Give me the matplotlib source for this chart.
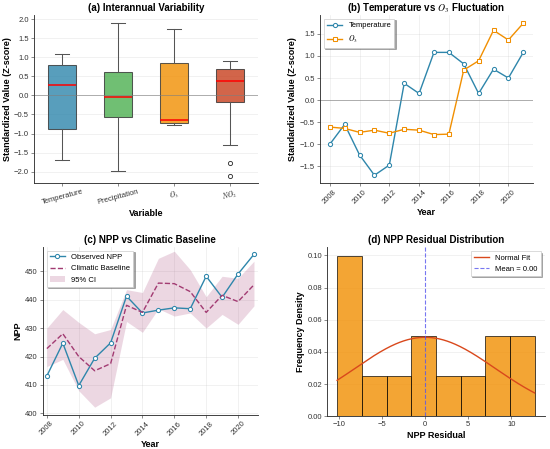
import matplotlib
matplotlib.use('Agg')
import matplotlib.pyplot as plt
import numpy as np

plt.rcParams['font.family'] = ['Liberation Sans', 'DejaVu Sans']
plt.rcParams['mathtext.fontset'] = 'stix'

years = np.arange(2008, 2022)

# standardized values (z-scores)
temp_z = [-1.00, -0.55, -1.24, -1.70, -1.47, 0.38, 0.15, 1.08, 1.08, 0.82, 0.15, 0.70, 0.50, 1.08]
o3_z = [-0.61, -0.64, -0.73, -0.68, -0.75, -0.66, -0.68, -0.78, -0.77, 0.68, 0.89, 1.58, 1.36, 1.74]
precip_z = [-0.60, 0.55, -1.98, 0.20, -0.30, 1.90, -0.90, 0.62, -0.10, -1.20, 0.90, -0.48, 1.30, 0.02]
no2_z = [-2.10, -1.77, -1.31, -0.20, -0.05, 0.10, 0.35, 0.43, 0.50, 0.65, 0.72, 0.80, 0.85, 0.89]
var_labels = ['Temperature', 'Precipitation', '$O_3$', '$NO_2$']

# NPP and climatic baseline
npp_obs = [413.2, 424.7, 409.8, 419.4, 424.8, 441.2, 435.3, 436.3, 437.1, 436.8, 448.2, 440.8, 449.0, 455.9]
npp_base = [422.8, 428.0, 420.0, 415.0, 417.5, 438.0, 435.5, 445.8, 445.6, 442.8, 435.5, 441.5, 439.3, 445.2]
ci_low = [416.5, 419.0, 408.0, 402.2, 405.5, 432.3, 428.5, 436.8, 434.2, 435.3, 430.0, 434.8, 431.3, 437.8]
ci_high = [430.0, 436.5, 432.0, 428.0, 429.5, 443.5, 442.5, 454.5, 457.0, 450.5, 441.0, 448.2, 447.5, 453.5]

blue = '#2E86AB'
orange = '#F18F01'
purple = '#A23B72'
box_colors = ['#2E86AB', '#4CB050', '#F18F01', '#C73E1D']

fig = plt.figure(figsize=(11, 8.98), dpi=50)
ax1 = fig.add_axes([0.062, 0.592, 0.407, 0.374])
ax2 = fig.add_axes([0.582, 0.592, 0.387, 0.374])
ax3 = fig.add_axes([0.078, 0.076, 0.391, 0.374])
ax4 = fig.add_axes([0.595, 0.073, 0.395, 0.376])

def style(ax):
    ax.spines['top'].set_visible(False)
    ax.spines['right'].set_visible(False)
    for s in ['left', 'bottom']:
        ax.spines[s].set_color('#333333')
        ax.spines[s].set_linewidth(1.3)
    ax.tick_params(labelsize=11, colors='#333333', length=4)
    ax.set_axisbelow(True)

tfs = 14
lfs = 13
legfs = 11

# (a) boxplot
bp = ax1.boxplot([temp_z, precip_z, o3_z, no2_z], widths=0.5, patch_artist=True,
                 medianprops=dict(color='red', linewidth=2.2),
                 whiskerprops=dict(color='#555555', linewidth=1.5),
                 capprops=dict(color='#555555', linewidth=1.5),
                 flierprops=dict(marker='o', markerfacecolor='white', markeredgecolor='#333333',
                                 markersize=6, markeredgewidth=1.3))
for patch, c in zip(bp['boxes'], box_colors):
    patch.set_facecolor(c)
    patch.set_alpha(0.8)
    patch.set_edgecolor('#333333')
    patch.set_linewidth(1.5)
ax1.axhline(0, color='gray', linewidth=1.2, alpha=0.7)
ax1.set_xticks([1, 2, 3, 4])
ax1.set_xticklabels(var_labels, rotation=15)
ax1.set_ylim(-2.3, 2.1)
ax1.yaxis.grid(True, alpha=0.3)
ax1.set_title('(a) Interannual Variability', fontsize=tfs, fontweight='bold')
ax1.set_xlabel('Variable', fontsize=lfs, fontweight='bold')
ax1.set_ylabel('Standardized Value (Z-score)', fontsize=lfs, fontweight='bold', labelpad=2)
style(ax1)

# (b) temperature vs O3
ax2.plot(years, temp_z, '-o', color=blue, linewidth=2, markersize=6,
         markerfacecolor='white', markeredgewidth=1.5, label='Temperature')
ax2.plot(years, o3_z, '-s', color=orange, linewidth=2, markersize=6,
         markerfacecolor='white', markeredgewidth=1.5, label='$O_3$')
ax2.axhline(0, color='gray', linewidth=1.2, alpha=0.7)
ax2.set_xticks(np.arange(2008, 2021, 2))
ax2.tick_params(axis='x', rotation=45)
ax2.set_ylim(-1.88, 1.92)
ax2.grid(True, alpha=0.3)
ax2.legend(loc='upper left', fontsize=legfs, frameon=True, shadow=True, fancybox=False)
ax2.set_title('(b) Temperature vs $O_3$ Fluctuation', fontsize=tfs, fontweight='bold')
ax2.set_xlabel('Year', fontsize=lfs, fontweight='bold')
ax2.set_ylabel('Standardized Value (Z-score)', fontsize=lfs, fontweight='bold')
style(ax2)

# (c) NPP vs baseline
ax3.fill_between(years, ci_low, ci_high, color=purple, alpha=0.2, linewidth=0, label='95% CI')
ax3.plot(years, npp_obs, '-o', color=blue, linewidth=2, markersize=6,
         markerfacecolor='white', markeredgewidth=1.5, label='Observed NPP')
ax3.plot(years, npp_base, '--', color=purple, linewidth=2, label='Climatic Baseline')
ax3.set_xticks(np.arange(2008, 2021, 2))
ax3.set_xlim(2007.75, 2021.25)
ax3.tick_params(axis='x', rotation=45)
ax3.set_ylim(399.5, 458.5)
ax3.grid(True, alpha=0.3)
h, l = ax3.get_legend_handles_labels()
ax3.legend([h[1], h[2], h[0]], [l[1], l[2], l[0]], loc='upper left', fontsize=legfs,
           frameon=True, shadow=True, fancybox=False)
ax3.set_title('(c) NPP vs Climatic Baseline', fontsize=tfs, fontweight='bold')
ax3.set_xlabel('Year', fontsize=lfs, fontweight='bold')
ax3.set_ylabel('NPP', fontsize=lfs, fontweight='bold')
style(ax3)

# (d) residual distribution
resid = np.array(npp_obs) - np.array(npp_base)
mu = resid.mean()
sd = resid.std(ddof=1)
ax4.hist(resid, bins=8, density=True, color=orange, alpha=0.8, edgecolor='black', linewidth=1.2)
xs = np.linspace(resid.min(), resid.max(), 200)
ax4.plot(xs, np.exp(-0.5 * ((xs - mu) / sd) ** 2) / (sd * np.sqrt(2 * np.pi)),
         color='#D9481C', linewidth=2, label='Normal Fit')
ax4.axvline(mu, color='#5555EE', linestyle='--', linewidth=1.6, alpha=0.8, label=f'Mean = {abs(mu):.2f}')
ax4.set_ylim(0, 0.105)
ax4.yaxis.grid(True, alpha=0.3)
ax4.legend(loc='upper right', fontsize=legfs, frameon=True, shadow=True, fancybox=False)
ax4.set_title('(d) NPP Residual Distribution', fontsize=tfs, fontweight='bold')
ax4.set_xlabel('NPP Residual', fontsize=lfs, fontweight='bold')
ax4.set_ylabel('Frequency Density', fontsize=lfs, fontweight='bold')
style(ax4)

fig.savefig('out.png', dpi=50)
